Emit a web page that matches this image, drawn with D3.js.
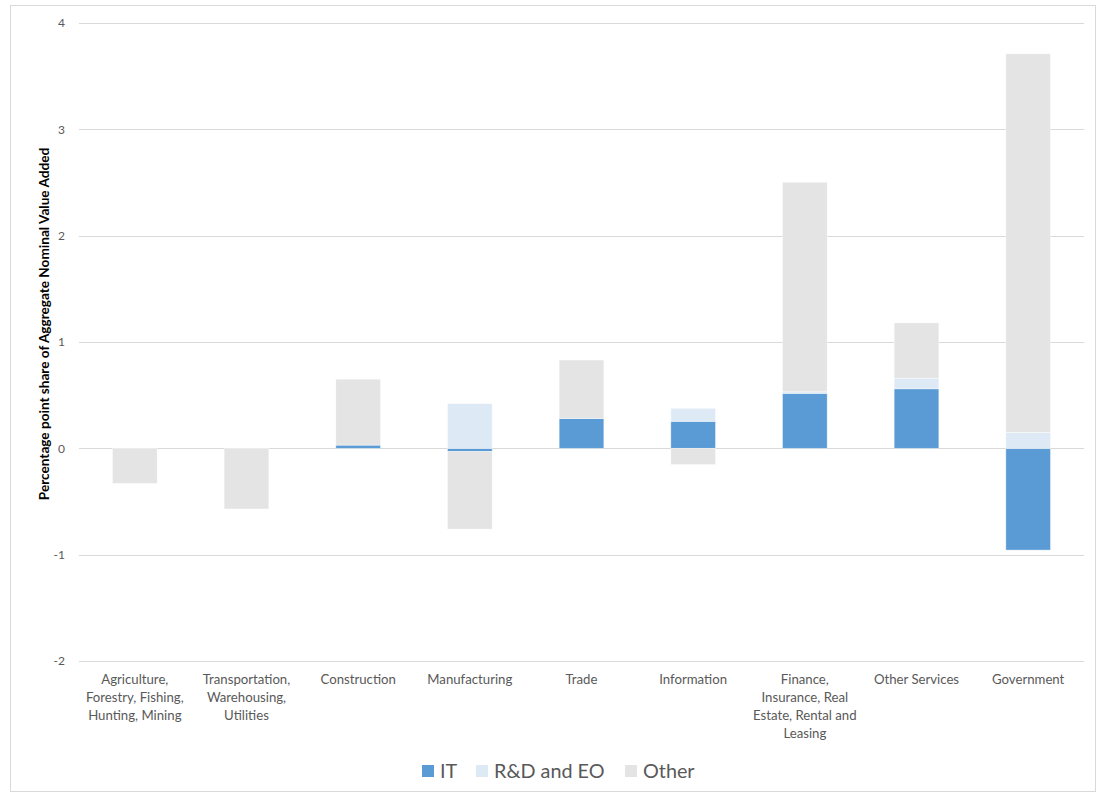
<!DOCTYPE html>
<html>
<head>
<meta charset="utf-8">
<script src="https://cdn.jsdelivr.net/npm/d3@7"></script>
<style>
  html, body { margin: 0; padding: 0; background: #fff; }
  svg { display: block; font-family: Lato, "Open Sans", sans-serif; }
</style>
</head>
<body>
<svg id="chart" width="1096" height="792"></svg>
<script>
// Industry groups (each label split into its display lines)
const categories = [
  "Agriculture, Forestry, Fishing, Hunting, Mining",
  "Transportation, Warehousing, Utilities",
  "Construction",
  "Manufacturing",
  "Trade",
  "Information",
  "Finance, Insurance, Real Estate, Rental and Leasing",
  "Other Services",
  "Government"
];
const categoryLines = [
  ["Agriculture,", "Forestry, Fishing,", "Hunting, Mining"],
  ["Transportation,", "Warehousing,", "Utilities"],
  ["Construction"],
  ["Manufacturing"],
  ["Trade"],
  ["Information"],
  ["Finance,", "Insurance, Real", "Estate, Rental and", "Leasing"],
  ["Other Services"],
  ["Government"]
];

// Contributions, percentage points
const seriesNames = ["IT", "R&D and EO", "Other"];
const itValues    = [0.00, 0.00, 0.03, -0.03, 0.28, 0.254, 0.517, 0.56, -0.957];
const rdValues    = [0.00, 0.00, 0.00, 0.42, 0.00, 0.122, 0.015, 0.10, 0.15];
const otherValues = [-0.33, -0.57, 0.62, -0.73, 0.55, -0.153, 1.97, 0.52, 3.56];

const yTicks = [-2, -1, 0, 1, 2, 3, 4];
const colors = ["#5b9bd5", "#ddeaf6", "#e4e4e4"];

const rows = categories.map((c, i) => ({
  category: c,
  "IT": itValues[i],
  "R&D and EO": rdValues[i],
  "Other": otherValues[i]
}));

const svg = d3.select("#chart");
const W = 1096, H = 792;

// Outer chart-area border
svg.append("rect")
  .attr("x", 10.5).attr("y", 5.5)
  .attr("width", W - 11).attr("height", H - 6)
  .attr("fill", "#fff").attr("stroke", "#d9d9d9");

const x = d3.scaleBand()
  .domain(categories)
  .range([79, 1084])
  .paddingInner(0.6)
  .paddingOuter(0.3);

const y = d3.scaleLinear().domain([-2, 4]).range([661, 23]);

// Gridlines
svg.append("g")
  .selectAll("line")
  .data(yTicks)
  .join("line")
  .attr("x1", 79).attr("x2", 1084)
  .attr("y1", d => Math.round(y(d)) + 0.5)
  .attr("y2", d => Math.round(y(d)) + 0.5)
  .attr("stroke", "#d9d9d9")
  .attr("stroke-width", 1);

// Y tick labels
svg.append("g")
  .selectAll("text")
  .data(yTicks)
  .join("text")
  .attr("x", 65)
  .attr("y", d => y(d))
  .attr("dy", "0.35em")
  .attr("text-anchor", "end")
  .attr("fill", "#595959")
  .attr("font-size", 12)
  .text(d => d);

// Stacked bars, positives and negatives stacked apart
const stack = d3.stack()
  .keys(seriesNames)
  .offset(d3.stackOffsetDiverging);
const layers = stack(rows);

svg.append("g")
  .selectAll("g")
  .data(layers)
  .join("g")
  .attr("fill", (d, i) => colors[i])
  .selectAll("rect")
  .data(d => d.filter(p => p[1] !== p[0]))
  .join("rect")
  .attr("x", d => x(d.data.category))
  .attr("width", x.bandwidth())
  .attr("y", d => y(Math.max(d[0], d[1])))
  .attr("height", d => Math.abs(y(d[0]) - y(d[1])))
  .attr("stroke", "#ffffff")
  .attr("stroke-opacity", 0.5)
  .attr("stroke-width", 0.75);

// Category labels
const labelG = svg.append("g");
categories.forEach((c, i) => {
  const t = labelG.append("text")
    .attr("x", x(c) + x.bandwidth() / 2)
    .attr("y", 684)
    .attr("text-anchor", "middle")
    .attr("fill", "#595959")
    .attr("font-size", 13.2);
  categoryLines[i].forEach((line, j) => {
    t.append("tspan")
      .attr("x", x(c) + x.bandwidth() / 2)
      .attr("dy", j === 0 ? 0 : 18)
      .text(line);
  });
});

// Y axis title
svg.append("text")
  .attr("transform", "translate(44,324) rotate(-90)")
  .attr("dy", "0.35em")
  .attr("text-anchor", "middle")
  .attr("font-weight", "bold")
  .attr("font-size", 13.6)
  .attr("fill", "#000")
  .text("Percentage point share of Aggregate Nominal Value  Added");

// Legend
const legendItems = [
  { name: "IT", x: 422 },
  { name: "R&D and EO", x: 476 },
  { name: "Other", x: 625 }
];
const lg = svg.append("g");
legendItems.forEach((it, i) => {
  lg.append("rect")
    .attr("x", it.x).attr("y", 765)
    .attr("width", 12).attr("height", 12)
    .attr("fill", colors[i]);
  lg.append("text")
    .attr("x", it.x + 18).attr("y", 771)
    .attr("dy", "0.35em")
    .attr("fill", "#595959")
    .attr("font-size", 19.8)
    .text(it.name);
});
</script>
</body>
</html>
